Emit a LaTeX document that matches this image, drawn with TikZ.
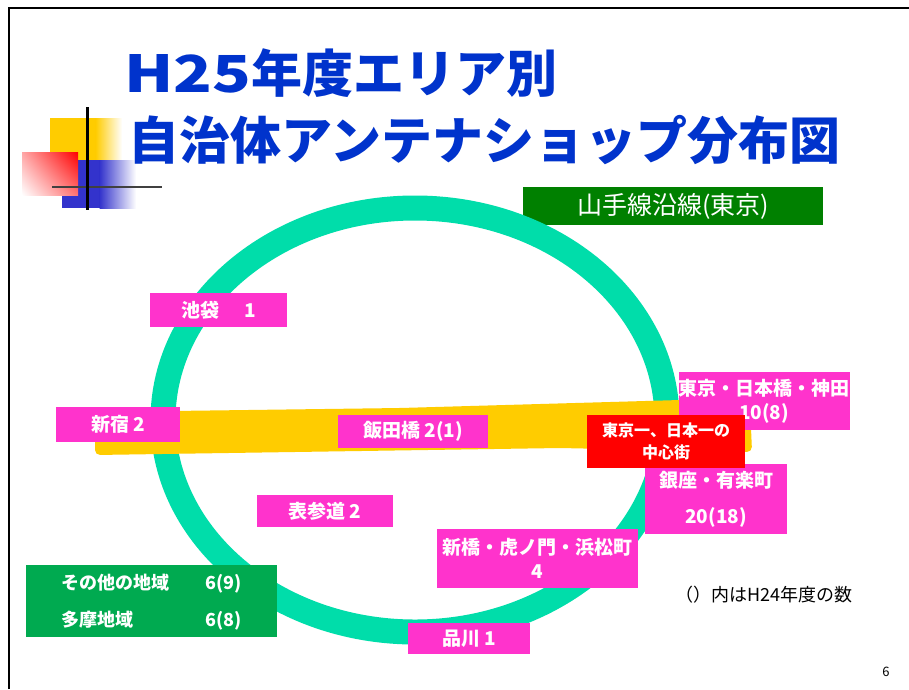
\documentclass[tikz,border=0pt]{standalone}
\usepackage{fontspec}
\usetikzlibrary{shadings}
\setmainfont{Noto Sans CJK JP}
\newfontfamily\jp{Noto Sans CJK JP}
\definecolor{mag}{RGB}{255,51,204}
\definecolor{ringc}{RGB}{0,221,170}
\definecolor{band}{RGB}{255,204,0}
\definecolor{gbox}{RGB}{0,170,80}
\definecolor{dgreen}{RGB}{0,128,0}
\definecolor{tblue}{RGB}{0,51,204}
\definecolor{dblue}{RGB}{51,51,204}
\tikzset{
  mbox/.style={fill=mag, text=white, inner sep=0pt, align=center,
    font=\jp\bfseries\fontsize{19}{24}\selectfont},
  rbox/.style={fill=red, text=white, inner sep=0pt, align=center,
    font=\jp\bfseries\fontsize{16}{22}\selectfont},
  ttl/.style={text=tblue, inner sep=0pt, anchor=west,
    font=\jp\bfseries\fontsize{51}{56}\selectfont},
}
\begin{document}
\begin{tikzpicture}[x=1pt,y=-1pt]
\useasboundingbox (0,0) rectangle (909,689);
\fill[white] (0,0) rectangle (909,689);
% frame
\draw[line width=2pt] (8.5,689) -- (8.5,7.5) -- (909,7.5);
% decoration
\fill[band] (50,118) rectangle (96,160);
\shade[left color=band, right color=white] (95.5,118) rectangle (122,160);
\fill[dblue] (62,160) rectangle (100,208);
\shade[left color=dblue, right color=white] (99.5,160) rectangle (136,208);
\shade[lower left=white, upper right=red, upper left=red!35!white, lower right=red!55!white] (22,152) rectangle (78,195);
\draw[line width=1.5pt, black!75] (52,187) -- (162,187);
\draw[line width=3pt] (87,107) -- (87,210);
% title
\node[ttl] (t1) at (124,73) {\scalebox{1.25}[1]{H25}年度エリア別};
\node[ttl] (t2) at (128,140) {自治体アンテナショップ分布図};
% legend
\node[fill=dgreen, text=white, minimum width=300pt, minimum height=38pt, inner sep=0pt,
  font=\jp\fontsize{25}{28}\selectfont] (line) at (673,206) {山手線沿線(東京)};
% ring
\draw[ringc, line width=25pt] (415,420) ellipse [x radius=252, y radius=212];
% yellow band
\fill[band, rounded corners=5pt] (95,412) -- (400,408) -- (680,400) -- (750,404)
  -- (752,452) -- (560,448) -- (95,455) -- cycle;
% boxes
\node[mbox, minimum width=137pt, minimum height=34pt] (ikebukuro) at (218.5,310) {池袋\hspace{1.3em}1};
\node[mbox, minimum width=124pt, minimum height=35pt] (shinjuku) at (118,424.5) {新宿 2};
\node[mbox, minimum width=150pt, minimum height=33pt] (iidabashi) at (413,431.5) {飯田橋 2(1)};
\node[mbox, minimum width=168pt, minimum height=58pt] (tokyo) at (764,401) {東京・日本橋・神田\\10(8)};
\node[mbox, minimum width=142pt, minimum height=70pt, font=\jp\bfseries\fontsize{19}{36}\selectfont] (ginza) at (716,499) {銀座・有楽町\\20(18)};
\node[rbox, minimum width=158pt, minimum height=53pt] (center) at (666,441.5) {東京一、日本一の\\中心街};
\node[mbox, minimum width=136pt, minimum height=32pt] (omotesando) at (325,511) {表参道 2};
\node[mbox, minimum width=201pt, minimum height=59pt] (shinbashi) at (537.5,558.5) {新橋・虎ノ門・浜松町\\4};
\node[mbox, minimum width=122pt, minimum height=31pt] (shinagawa) at (469,638.5) {品川 1};
\node[fill=gbox, text=white, minimum width=251pt, minimum height=72pt, inner sep=0pt,
  font=\jp\bfseries\fontsize{18}{35}\selectfont] (other) at (151.5,601)
  {\begin{tabular}{@{}l@{\hspace{36pt}}r@{}}その他の地域 & 6(9)\\[2pt] 多摩地域 & 6(8)\end{tabular}};
% notes
\node[inner sep=0pt, font=\jp\fontsize{18}{20}\selectfont] (note) at (764,595) {（）内はH24年度の数};
\node[inner sep=0pt, font=\jp\fontsize{13}{16}\selectfont] (page) at (886,672) {6};
\end{tikzpicture}
\end{document}
